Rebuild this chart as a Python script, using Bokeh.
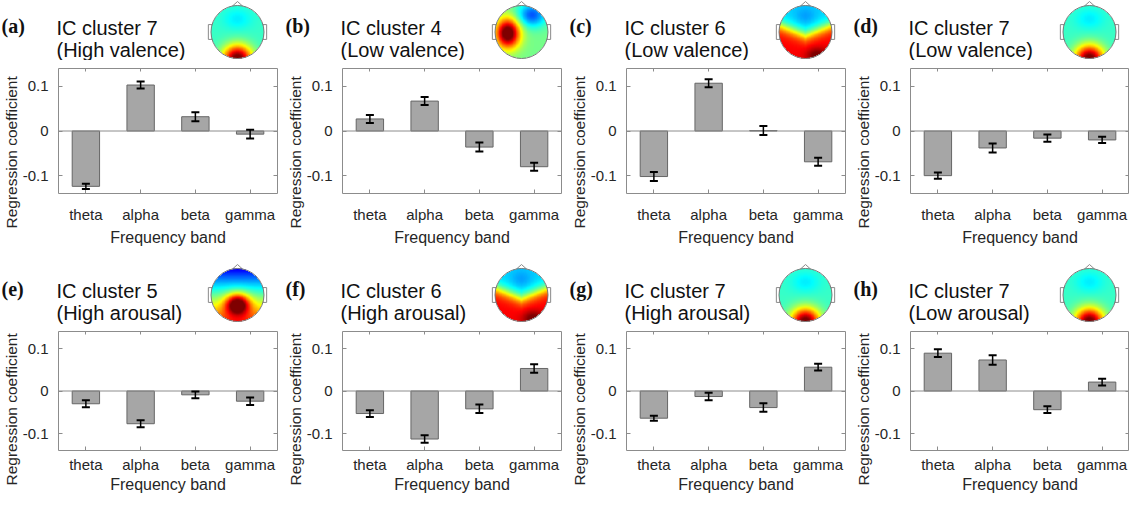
import numpy as np
from bokeh.plotting import figure
from bokeh.models import (ColumnDataSource, Range1d, FactorRange, FixedTicker, LinearAxis,
                          CategoricalAxis, CustomJSTickFormatter, Whisker, TeeHead, Span,
                          LinearColorMapper, Title)
from bokeh.layouts import column, row
from bokeh.core.properties import value
from bokeh.embed import file_html
from bokeh.resources import INLINE

# ---------------- data ----------------
bands = ["theta", "alpha", "beta", "gamma"]
panel_labels = ["(a)", "(b)", "(c)", "(d)", "(e)", "(f)", "(g)", "(h)"]
titles_1 = ["IC cluster 7", "IC cluster 4", "IC cluster 6", "IC cluster 7",
            "IC cluster 5", "IC cluster 6", "IC cluster 7", "IC cluster 7"]
titles_2 = ["(High valence)", "(Low valence)", "(Low valence)", "(Low valence)",
            "(High arousal)", "(High arousal)", "(High arousal)", "(Low arousal)"]
topo_kind = ["c7", "c4", "c6", "c7", "c5", "c6", "c7", "c7"]

coef_a = [-0.124, 0.103, 0.032, -0.007]
err_a = [0.006, 0.008, 0.010, 0.010]
coef_b = [0.027, 0.067, -0.036, -0.080]
err_b = [0.009, 0.009, 0.010, 0.009]
coef_c = [-0.102, 0.107, 0.001, -0.069]
err_c = [0.010, 0.009, 0.010, 0.009]
coef_d = [-0.100, -0.038, -0.016, -0.020]
err_d = [0.007, 0.010, 0.008, 0.007]
coef_e = [-0.030, -0.077, -0.009, -0.024]
err_e = [0.008, 0.008, 0.008, 0.009]
coef_f = [-0.053, -0.113, -0.042, 0.053]
err_f = [0.008, 0.009, 0.010, 0.010]
coef_g = [-0.064, -0.013, -0.039, 0.056]
err_g = [0.006, 0.009, 0.010, 0.008]
coef_h = [0.089, 0.073, -0.044, 0.021]
err_h = [0.009, 0.011, 0.008, 0.008]

coefs = [coef_a, coef_b, coef_c, coef_d, coef_e, coef_f, coef_g, coef_h]
errs = [err_a, err_b, err_c, err_d, err_e, err_f, err_g, err_h]
y_ticks = [-0.1, 0, 0.1]
y_label = "Regression coefficient"
x_label = "Frequency band"

# ---------------- style / layout ----------------
SANS = "Liberation Sans"
SERIF = "Liberation Serif"
TXT = "#262626"
GRAY = "#8c8c8c"
BAR_FILL = "#a6a6a6"
BAR_LINE = "#666666"

COL_W = 284          # column pitch
FRAME_W = 221
LEFT_B = 56
ROW1_TOP, ROW1_HEAD_B, ROW1_BOT = 8, 68, 262
ROW2_HEAD_B, ROW2_BOT = 333, 503
FRAME_H = 125


def jet_palette(n=256):
    out = []
    for t in np.linspace(0, 1, n):
        r = np.clip(1.5 - abs(4 * t - 3), 0, 1)
        g = np.clip(1.5 - abs(4 * t - 2), 0, 1)
        b = np.clip(1.5 - abs(4 * t - 1), 0, 1)
        out.append("#%02x%02x%02x" % (int(r * 255), int(g * 255), int(b * 255)))
    return out


JET = jet_palette()


def topo_field(kind, n=121):
    g = np.linspace(-1, 1, n)
    u, v = np.meshgrid(g, g)

    def G(x0, y0, sx, sy):
        return np.exp(-(((u - x0) / sx) ** 2 + ((v - y0) / sy) ** 2))

    if kind == "c7":
        f = 0.43 - 0.07 * G(0, 0.5, 0.55, 0.4) + 0.6 * G(0, -1.0, 0.55, 0.5)
    elif kind == "c4":
        f = 0.49 + 0.6 * G(-0.52, -0.05, 0.45, 0.55) - 0.28 * G(0.4, 0.65, 0.55, 0.45)
    elif kind == "c6":
        s = (v - (-0.15 + 0.4 * np.abs(u))) / 0.3
        f = 0.33 + 0.55 * (0.5 - 0.5 * np.tanh(s)) - 0.05 * G(0, 0.6, 0.4, 0.35) \
            + 0.15 * G(0.45, -0.9, 0.4, 0.3)
    else:  # c5
        f = 0.47 - 0.36 * v + 0.55 * G(0, -0.35, 0.45, 0.4)
    f = np.clip(f, 0, 1)
    f[u ** 2 + v ** 2 > 1.0] = np.nan
    return f


def header(panels, top, bottom, frame_top):
    h = figure(width=1129, height=bottom - top, x_range=Range1d(8, 1137),
               y_range=Range1d(-bottom, -top), output_backend="svg",
               toolbar_location=None, min_border=0, x_axis_location=None,
               y_axis_location=None, outline_line_color=None)
    h.grid.visible = False
    mapper = LinearColorMapper(palette=JET, low=0, high=1, nan_color=(0, 0, 0, 0.0))
    for col, i in enumerate(panels):
        fl = 64 + COL_W * col
        h.text(x=[fl - 55], y=[-(frame_top - 43)], text=[panel_labels[i]],
               text_font=value(SERIF), text_font_style="bold", text_font_size="20px",
               text_color="#111111", text_baseline="alphabetic", text_align="left")
        h.text(x=[fl, fl], y=[-(frame_top - 41), -(frame_top - 19)],
               text=[titles_1[i], titles_2[i]], text_font=value(SANS),
               text_font_size="20px", text_color="#111111",
               text_baseline="alphabetic", text_align="left")
        cx, cy, r = fl + 181, -(frame_top - 36.5), 26.5
        # ears
        h.quad(left=[cx - 1.1 * r, cx + 0.96 * r], right=[cx - 0.96 * r, cx + 1.1 * r],
               bottom=[cy - 0.28 * r] * 2, top=[cy + 0.28 * r] * 2,
               fill_color="white", line_color="#8a8a8a", line_width=1)
        # nose
        h.patch(x=[cx - 0.2 * r, cx, cx + 0.2 * r], y=[cy + 0.97 * r, cy + 1.15 * r, cy + 0.97 * r],
                fill_color="white", line_color="#8a8a8a", line_width=1)
        h.image(image=[topo_field(topo_kind[i])], x=cx - r, y=cy - r, dw=2 * r, dh=2 * r,
                color_mapper=mapper)
        h.circle(x=[cx], y=[cy], radius=r, fill_color=None, line_color="#7a7a7a",
                 line_width=1)
    return h


def bar_fig(i, col, height, mbt, mbb, x_standoff, x_label_standoff, ylab_offset):
    mbr = 0 if col == 3 else COL_W - LEFT_B - FRAME_W
    width = LEFT_B + FRAME_W + mbr
    p = figure(width=width, height=height, x_range=FactorRange(*bands),
               y_range=Range1d(-0.14, 0.14), output_backend="svg", toolbar_location=None,
               min_border_left=LEFT_B, min_border_right=mbr, min_border_top=mbt,
               min_border_bottom=mbb)
    p.grid.visible = False
    p.outline_line_color = GRAY
    p.outline_line_width = 1
    c, e = coefs[i], errs[i]
    src = ColumnDataSource(dict(band=bands, coef=c,
                                upper=[a + b for a, b in zip(c, e)],
                                lower=[a - b for a, b in zip(c, e)]))
    p.vbar(x="band", top="coef", bottom=0, width=0.5, source=src,
           fill_color=BAR_FILL, line_color=BAR_LINE, line_width=1)
    p.add_layout(Span(location=0, dimension="width", line_color=GRAY, line_width=1))
    p.add_layout(Whisker(base="band", upper="upper", lower="lower", source=src,
                         line_color="black", line_width=1.5, level="annotation",
                         upper_head=TeeHead(size=8, line_color="black", line_width=2),
                         lower_head=TeeHead(size=8, line_color="black", line_width=2)))

    ya = p.yaxis[0]
    ya.ticker = FixedTicker(ticks=y_ticks)
    ya.formatter = CustomJSTickFormatter(code="return tick.toString();")
    xa = p.xaxis[0]
    xa.axis_label = x_label
    for ax in (xa, ya):
        ax.axis_label_text_font = SANS
        ax.axis_label_text_font_size = "16px"
        ax.axis_label_text_font_style = "normal"
        ax.axis_label_text_color = TXT
        ax.major_label_text_font = SANS
        ax.major_label_text_font_size = "15px"
        ax.major_label_text_color = TXT
        ax.major_tick_in = 4
        ax.major_tick_out = 0
        ax.minor_tick_line_color = None
        ax.axis_line_color = None
        ax.major_tick_line_color = GRAY
    ya.major_label_standoff = 10
    xa.major_label_standoff = x_standoff
    xa.axis_label_standoff = x_label_standoff

    # y-axis title: as in the original it runs on below the box bottom
    p.add_layout(Title(text=y_label, align="left", offset=ylab_offset,
                       vertical_align="bottom", standoff=0,
                       text_font=SANS, text_font_size="15.5px", text_font_style="normal",
                       text_color=TXT), "left")

    ra = LinearAxis(ticker=FixedTicker(ticks=y_ticks),
                    formatter=CustomJSTickFormatter(code="return '';"),
                    major_label_text_font_size="0px", major_label_text_color=None,
                    major_label_standoff=0, major_tick_in=4, major_tick_out=0,
                    minor_tick_line_color=None, axis_line_color=None,
                    major_tick_line_color=GRAY)
    p.add_layout(ra, "right")
    ta = CategoricalAxis(major_label_text_font_size="0px", major_label_text_color=None,
                         major_label_standoff=0, major_tick_in=3, major_tick_out=0,
                         axis_line_color=None, major_tick_line_color=GRAY)
    p.add_layout(ta, "above")
    return p


def bar_row(panels, top, bottom, mbt, x_standoff, x_label_standoff, ylab_offset):
    h = bottom - top
    kids = [bar_fig(i, col, h, mbt, h - mbt - FRAME_H, x_standoff, x_label_standoff,
                    ylab_offset) for col, i in enumerate(panels)]
    return row(*kids)


head1 = header([0, 1, 2, 3], ROW1_TOP, ROW1_HEAD_B, ROW1_HEAD_B + 8)
row1 = bar_row([0, 1, 2, 3], ROW1_HEAD_B, ROW1_BOT, 8, 12, 3, -35)
head2 = header([4, 5, 6, 7], ROW1_BOT, ROW2_HEAD_B, ROW2_HEAD_B + 6)
row2 = bar_row([4, 5, 6, 7], ROW2_HEAD_B, ROW2_BOT, 6, 5, 0, -35)

layout = column(head1, row1, head2, row2)
open("out.html", "w").write(file_html(layout, INLINE))
